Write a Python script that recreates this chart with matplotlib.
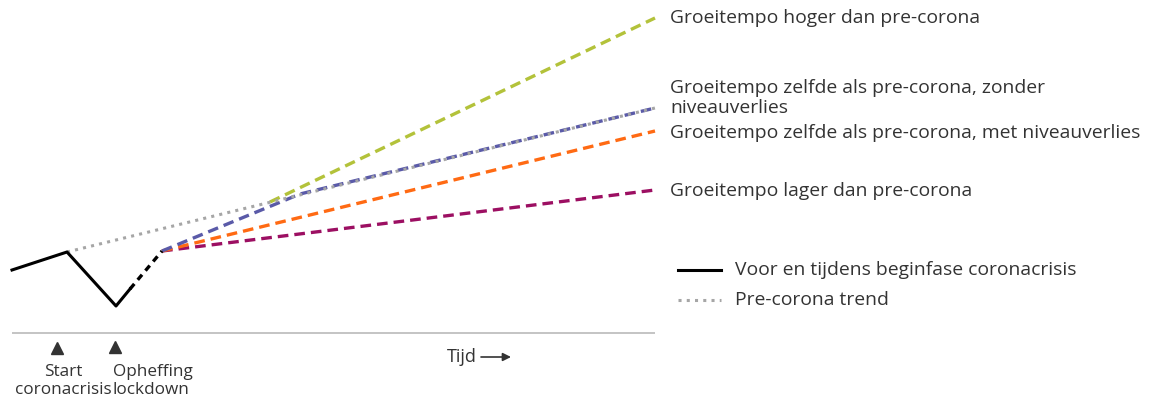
import matplotlib.pyplot as plt

plt.rcParams["font.family"] = ["Open Sans", "DejaVu Sans"]

# Time axis and economic level (arbitrary index units, higher = more output)
pre_crisis_t = [12, 67, 116, 130]
pre_crisis_lvl = [133, 151, 97, 114]
reopen_t = [130, 162]
reopen_lvl = [114, 152]
trend_t = [67, 655]
trend_lvl = [151, 295]

scenario_names = [
    "Groeitempo hoger dan pre-corona",
    "Groeitempo zelfde als pre-corona, zonder\nniveauverlies",
    "Groeitempo zelfde als pre-corona, met niveauverlies",
    "Groeitempo lager dan pre-corona",
]
scenario_t = [[270, 655], [162, 300, 655], [162, 655], [162, 655]]
scenario_lvl = [[201, 385], [152, 209, 295], [152, 272], [152, 213]]
scenario_colors = ["#b3c23a", "#5a5aa8", "#ff6a13", "#9c0f62"]
label_lvl = [385, 305, 270, 212]

event_t = [57, 115]
event_names = ["Start\ncoronacrisis", "Opheffing\nlockdown"]

text_color = "#333333"

fig = plt.figure(figsize=(11.64, 4.03), dpi=100)
ax = fig.add_axes([0, 0, 1, 1])
ax.set_xlim(0, 1164)
ax.set_ylim(0, 403)
ax.axis("off")

# baseline time axis
ax.plot([12, 655], [70, 70], color="#bfbfbf", lw=1.3, solid_capstyle="butt")

dash = (0, (3.2, 1.8))
# draw scenarios in reverse so the blue one sits on top of the green start
for t, lvl, c in zip(scenario_t[::-1], scenario_lvl[::-1], scenario_colors[::-1]):
    ax.plot(t, lvl, color=c, lw=2.4, linestyle=dash, dash_capstyle="butt", zorder=3)

ax.plot(trend_t, trend_lvl, color="#a6a6a6", lw=2.2, linestyle=(0, (1, 1.7)), zorder=4)
ax.plot(pre_crisis_t, pre_crisis_lvl, color="black", lw=2.2, zorder=5)
ax.plot(reopen_t, reopen_lvl, color="black", lw=2.4, linestyle=(0, (2, 1.6)), zorder=5)

for name, lvl in zip(scenario_names, label_lvl):
    ax.text(670, lvl, name, fontsize=13.9, color=text_color, va="center", ha="left",
            linespacing=1.2)

# legend
ax.plot([678, 721], [133, 133], color="black", lw=2.2)
ax.text(735, 133, "Voor en tijdens beginfase coronacrisis", fontsize=13.9,
        color=text_color, va="center")
ax.plot([678, 721], [103, 103], color="#a6a6a6", lw=2.2, linestyle=(0, (1, 1.7)))
ax.text(735, 103, "Pre-corona trend", fontsize=13.9, color=text_color, va="center")

# event markers below the axis
ax.plot(event_t, [55, 56], linestyle="none", marker="^", markersize=9, color="#333333")
ax.text(event_t[0] + 6, 39, event_names[0], fontsize=12.3, color=text_color,
        ha="center", va="top", linespacing=1.2)
ax.text(event_t[1] - 2, 39, event_names[1], fontsize=12.3, color=text_color,
        ha="left", va="top", linespacing=1.2)

ax.text(447, 46, "Tijd", fontsize=13, color=text_color, va="center")
ax.annotate("", xy=(511, 46), xytext=(481, 46),
            arrowprops=dict(arrowstyle="-|>", color="#333333", lw=1.2,
                            mutation_scale=12, shrinkA=0, shrinkB=0))

fig.savefig("out.png", dpi=100)
